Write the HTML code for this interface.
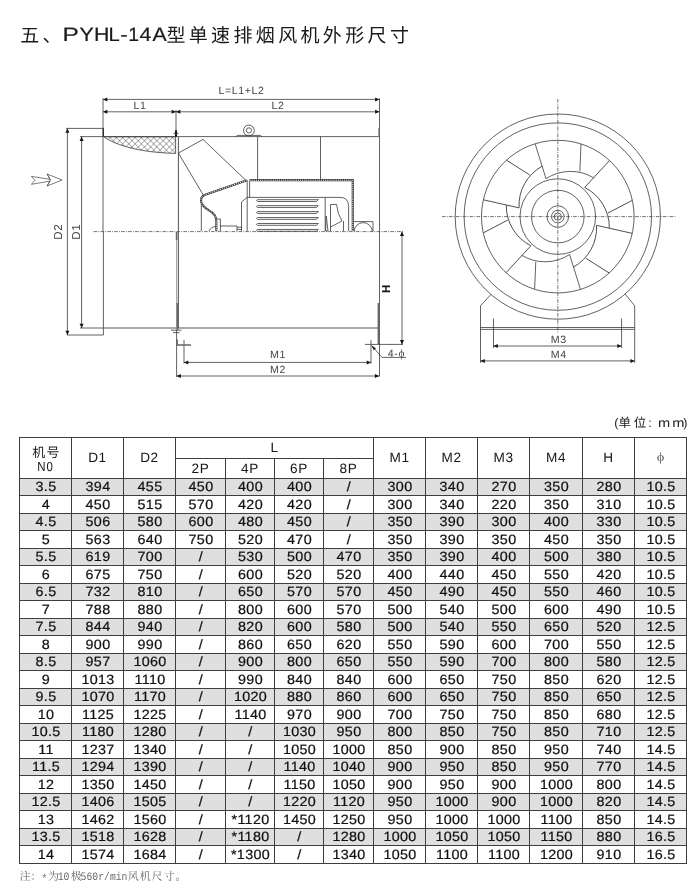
<!DOCTYPE html>
<html lang="zh"><head><meta charset="utf-8"><title>PYHL-14A</title>
<style>
html,body{margin:0;padding:0;background:#fff}
body{will-change:transform}
body,svg text{text-rendering:geometricPrecision}
.mono{font-family:"Liberation Mono",monospace!important}
body{width:700px;height:893px;position:relative;overflow:hidden;font-family:"Liberation Sans",sans-serif;color:#222}
.abs{position:absolute;display:block;overflow:visible}
svg text{font-family:"Liberation Sans",sans-serif}
svg text.cjk{font-family:"Liberation Sans","Noto Sans CJK SC",sans-serif}
svg text.cjks{font-family:"Liberation Serif","Noto Serif CJK SC",serif}
table.t{position:absolute;left:19px;top:437px;border-collapse:collapse;table-layout:fixed;width:667px;font-size:13px;color:#1c1c1c;letter-spacing:.7px}
table.t th,table.t td{border:1px solid #3e3e3e;padding:0;text-align:center;font-weight:normal;overflow:hidden;white-space:nowrap;line-height:1}
table.t tr.h1{height:21px}
table.t tr.h2{height:20px}
table.t th{font-size:13.6px;color:#151515;padding-top:0;letter-spacing:.6px}
table.t tr.g{height:17px;background:#dfdfdf}
table.t tr.w{height:18px}
table.t td{font-size:13.4px;padding-bottom:0;letter-spacing:.3px;transform:scaleX(1.07);color:#111;-webkit-text-stroke:.22px #111}
table.t th.no{line-height:12px;padding-top:2px}
table.t .n0{display:block;font-size:13px;letter-spacing:1px;margin-top:2px;transform:scaleX(.88)}
table.t th.phi{font-family:"Liberation Serif",serif;font-size:12.5px;color:#5a5a5a;-webkit-text-stroke:0;transform:scaleX(1.15);padding-top:0;padding-bottom:2px}
</style></head><body>
<svg class="abs" style="left:0;top:0" width="700" height="60" viewBox="0 0 700 60" role="img" aria-label="五、PYHL-14A型单速排烟风机外形尺寸"><title>五、PYHL-14A型单速排烟风机外形尺寸</title>
<text class="cjk" x="20.2" y="42" font-size="19" letter-spacing="3.3" fill="#1a1a1a">五、</text>
<text x="62.6" y="41" font-size="19.4" fill="#1a1a1a" stroke="#1a1a1a" stroke-width="0.2" transform="translate(62.6 0) scale(1.26 1) translate(-62.6 0)">P</text>
<text x="79.4" y="41" font-size="19.4" fill="#1a1a1a" stroke="#1a1a1a" stroke-width="0.2" transform="translate(79.4 0) scale(1.1 1) translate(-79.4 0)">Y</text>
<text x="94.0" y="41" font-size="19.4" fill="#1a1a1a" stroke="#1a1a1a" stroke-width="0.2" transform="translate(94.0 0) scale(1.1 1) translate(-94.0 0)">H</text>
<text x="108.6" y="41" font-size="19.4" fill="#1a1a1a" stroke="#1a1a1a" stroke-width="0.2" transform="translate(108.6 0) scale(1.04 1) translate(-108.6 0)">L</text>
<text x="120.4" y="41" font-size="19.4" fill="#1a1a1a" stroke="#1a1a1a" stroke-width="0.2" transform="translate(120.4 0) scale(1.1 1) translate(-120.4 0)">-</text>
<text x="128.2" y="41" font-size="19.4" fill="#1a1a1a" stroke="#1a1a1a" stroke-width="0.2" transform="translate(128.2 0) scale(1.0 1) translate(-128.2 0)">1</text>
<text x="139.6" y="41" font-size="19.4" fill="#1a1a1a" stroke="#1a1a1a" stroke-width="0.2" transform="translate(139.6 0) scale(1.1 1) translate(-139.6 0)">4</text>
<text x="152.4" y="41" font-size="19.4" fill="#1a1a1a" stroke="#1a1a1a" stroke-width="0.2" transform="translate(152.4 0) scale(1.1 1) translate(-152.4 0)">A</text>
<text class="cjk" x="166.4" y="42" font-size="19" letter-spacing="3.35" fill="#1a1a1a">型单速排烟风机外形尺寸</text>
</svg>
<svg class="abs" style="left:0;top:80px" width="430" height="310" viewBox="0 80 430 310">
<defs><pattern id="xh" width="4.4" height="4.4" patternUnits="userSpaceOnUse" patternTransform="translate(104 137) rotate(45)"><path d="M0 0H4.4M0 0V4.4" stroke="#222" stroke-width="0.65" fill="none"/></pattern></defs>
<g fill="none" stroke="#3a3a3a" stroke-width="0.8">
<line x1="103" y1="99.4" x2="379.4" y2="99.4"/><polygon points="103.0,99.4 107.3,97.4 107.3,101.4" fill="#151515" stroke="none"/><polygon points="379.4,99.4 375.1,101.4 375.1,97.4" fill="#151515" stroke="none"/>
<line x1="103" y1="111.8" x2="176" y2="111.8"/><polygon points="103.0,111.8 107.3,109.8 107.3,113.8" fill="#151515" stroke="none"/><polygon points="176.0,111.8 171.7,113.8 171.7,109.8" fill="#151515" stroke="none"/>
<line x1="176" y1="111.8" x2="379.4" y2="111.8"/><polygon points="176.0,111.8 180.3,109.8 180.3,113.8" fill="#151515" stroke="none"/><polygon points="379.4,111.8 375.1,113.8 375.1,109.8" fill="#151515" stroke="none"/>
<path d="M103 98.2V231.6M103.4 231.6V335M176 110V136.6M379.5 98.2V376.5"/>
<path d="M66 128.4H103.4M67 335H103.4M80 136.6H103.4M80 328H103.4"/><path d="M103.3 128.2V136.8" stroke="#222" stroke-width="1.2"/>
<line x1="67.4" y1="128.4" x2="67.4" y2="335"/><polygon points="67.4,128.4 69.4,132.7 65.4,132.7" fill="#151515" stroke="none"/><polygon points="67.4,335.0 65.4,330.7 69.4,330.7" fill="#151515" stroke="none"/>
<line x1="81.6" y1="136.6" x2="81.6" y2="328"/><polygon points="81.6,136.6 83.6,140.9 79.6,140.9" fill="#151515" stroke="none"/><polygon points="81.6,328.0 79.6,323.7 83.6,323.7" fill="#151515" stroke="none"/>
<path d="M104 136.8H175.6V153.4C135 152.5 112 143 104 136.8Z" fill="url(#xh)"/>
<path d="M103.4 136.6H379.4"/>
<path d="M103.4 328H379.4" stroke="#555" stroke-width="1.1"/>
<path d="M178.4 136.6V328" stroke="#555" stroke-width="1"/>
<path d="M176.7 232V328" stroke="#9a9a9a" stroke-width="1.1"/>
<path d="M257.6 136.6V179.6M320.5 136.6V179.6"/>
<path d="M176 130.4V136.6" stroke="#111" stroke-width="2.1"/><path d="M173.5 133.4H178.5"/>
<path d="M176.6 232V240M177.4 303V330M378.4 303V344" stroke="#666" stroke-width="1.6"/><path d="M378.7 128V136.6" stroke="#888" stroke-width="1"/>
<circle cx="248.9" cy="130.5" r="5.4"/><circle cx="248.9" cy="130.4" r="2.6"/><path d="M236 136.4L238 135.4H260L261.8 136.4"/>
<path d="M178.4 153L203 139.4L245.5 180M178.4 153L203.5 195.5"/>
<path d="M247 180.2L204.5 195Q200.2 197.2 201.2 202Q202 206 209 210.4Q216.3 214.5 216.3 221V231" stroke="#333" stroke-width="2.1"/><path d="M247 180.2L204.5 195Q200.2 197.2 201.2 202Q202 206 209 210.4Q216.3 214.5 216.3 221V231" stroke="#fff" stroke-width="0.9" stroke-dasharray="1.2 0.9"/>
<path d="M201.3 204.5V231"/>
<path d="M249.5 180.2H352.8V231" stroke="#333" stroke-width="2.2"/><path d="M249.5 180.2H352.8V231" stroke="#fff" stroke-width="1" stroke-dasharray="1.2 0.9"/>
<path d="M247.2 180V231"/>
<path d="M241.5 231V202L247.2 197.4M247 197.4H340Q348.6 197.4 348.6 206.5V231M249.6 181V197.4M325.2 197.4V231"/>
<path d="M318 199.70H257.5Q255.4 200.60 257.5 201.50H316.5L318.6 199.20"/>
<path d="M318 205.65H257.5Q255.4 206.55 257.5 207.45H316.5L318.6 205.15"/>
<path d="M318 211.60H257.5Q255.4 212.50 257.5 213.40H316.5L318.6 211.10"/>
<path d="M318 217.55H257.5Q255.4 218.45 257.5 219.35H316.5L318.6 217.05"/>
<path d="M318 223.50H257.5Q255.4 224.40 257.5 225.30H316.5L318.6 223.00"/>
<path d="M318 229.45H257.5Q255.4 230.35 257.5 231.25H316.5L318.6 228.95"/>
<path d="M330.5 231V204.5H336.5Q337.5 214 342 221L330.5 227M343.5 221V231M325.6 231L326.2 216L328 231Z"/>
<path d="M216.6 219H220.4V231M220.4 226H237V231M237 227.2H242M237 229.4H242M209 231Q211 226.5 216 226.5"/>
<path d="M354 221.6H373V231.6M354.2 231.6A9 9 0 0 1 372.2 231.6"/>
<path d="M93.6 231.6H404" stroke-dasharray="3.6 1.2 0.9 1.2" stroke="#444" stroke-width="0.75"/>
<line x1="402" y1="231.6" x2="402" y2="344.4"/><polygon points="402.0,231.6 404.0,235.9 400.0,235.9" fill="#151515" stroke="none"/><polygon points="402.0,344.4 400.0,340.1 404.0,340.1" fill="#151515" stroke="none"/>
<path d="M171 330.2H181.5M173 332.6H179.5M176.6 330V377M184 340V363.5M365 344.4H403M371 340V363.5"/>
<path d="M177.2 339.5V345H191" stroke="#666" stroke-width="1.5"/>
<line x1="184" y1="362.4" x2="371" y2="362.4"/><polygon points="184.0,362.4 188.3,360.4 188.3,364.4" fill="#151515" stroke="none"/><polygon points="371.0,362.4 366.7,364.4 366.7,360.4" fill="#151515" stroke="none"/>
<line x1="176.6" y1="376" x2="379.2" y2="376"/><polygon points="176.6,376.0 180.9,374.0 180.9,378.0" fill="#151515" stroke="none"/><polygon points="379.2,376.0 374.9,378.0 374.9,374.0" fill="#151515" stroke="none"/>
<path d="M371.5 345.5L382 357.4H406"/><polygon points="371.5,345.5 375.9,348.3 373.8,350.2" fill="#151515" stroke="none"/>
<path d="M31.4 176.4L50 179.3L47.1 174L62.1 180L47.1 186L50 181.1L31.4 184.3L35 180.3ZM47.1 174L50.6 180L47.1 186" stroke="#444" stroke-width="0.7"/>
</g>
<g font-size="10.6" fill="#444" text-anchor="middle" letter-spacing="0.6">
<text x="241.5" y="93.7">L=L1+L2</text>
<text x="140" y="108.7">L1</text>
<text x="278" y="108.7">L2</text>
<text x="278" y="357.6">M1</text>
<text x="278" y="373.2">M2</text>
<text x="396.5" y="356.6">4-<tspan font-family="Liberation Serif" font-size="11.5">ϕ</tspan></text>
<text transform="translate(61.5 231.8) rotate(-90)" font-size="11.6">D2</text>
<text transform="translate(79.8 231.8) rotate(-90)" font-size="11.6">D1</text>
<text transform="translate(389.6 288.8) rotate(-90)" font-weight="bold" fill="#111" font-size="11.5" letter-spacing="0">H</text>
</g>
</svg>
<svg class="abs" style="left:440px;top:90px" width="250" height="300" viewBox="440 90 250 300">
<g fill="none" stroke="#3a3a3a" stroke-width="0.8">
<circle cx="557.8" cy="216.6" r="102.6"/>
<circle cx="557.8" cy="216.6" r="93.7"/>
<circle cx="557.8" cy="216.6" r="76.3"/>
<circle cx="557.8" cy="216.6" r="37.8"/>
<circle cx="557.8" cy="216.6" r="26.3"/>
<circle cx="557.8" cy="216.6" r="10.8"/>
<circle cx="557.8" cy="216.6" r="6.3"/>
<circle cx="557.8" cy="216.6" r="3.6"/>
<g transform="translate(557.8 216.6)">
<path transform="rotate(0)" d="M-22.69 -72.85L-11.81 -37.90A44.9 44.9 0 0 1 35.81 -38.80M23.17 -72.59L22.03 -45.16"/>
<path transform="rotate(60)" d="M-22.69 -72.85L-11.81 -37.90A44.9 44.9 0 0 1 35.81 -38.80M23.17 -72.59L22.03 -45.16"/>
<path transform="rotate(120)" d="M-22.69 -72.85L-11.81 -37.90A44.9 44.9 0 0 1 35.81 -38.80M23.17 -72.59L22.03 -45.16"/>
<path transform="rotate(180)" d="M-22.69 -72.85L-11.81 -37.90A44.9 44.9 0 0 1 35.81 -38.80M23.17 -72.59L22.03 -45.16"/>
<path transform="rotate(240)" d="M-22.69 -72.85L-11.81 -37.90A44.9 44.9 0 0 1 35.81 -38.80M23.17 -72.59L22.03 -45.16"/>
<path transform="rotate(300)" d="M-22.69 -72.85L-11.81 -37.90A44.9 44.9 0 0 1 35.81 -38.80M23.17 -72.59L22.03 -45.16"/>
<path d="M0 0V2.4M0 0L-2.1 -1.3M0 0L2.1 -1.3" stroke-width="0.6"/>
</g>
<path d="M442 216.6H676M557.8 99V333" stroke-dasharray="3.6 1.2 0.9 1.2" stroke="#444" stroke-width="0.75"/>
<path d="M491.3 294.1L480.5 305.8V362.8M625.2 294.1L634.7 305.8V362.8M480.5 327.5H634.7M480.5 329.4H634.7M493.5 318.5V348M621.6 318.5V348"/>
<line x1="493.5" y1="346" x2="621.6" y2="346"/><polygon points="493.5,346.0 497.8,344.0 497.8,348.0" fill="#151515" stroke="none"/><polygon points="621.6,346.0 617.3,348.0 617.3,344.0" fill="#151515" stroke="none"/>
<line x1="480.5" y1="360.9" x2="634.7" y2="360.9"/><polygon points="480.5,360.9 484.8,358.9 484.8,362.9" fill="#151515" stroke="none"/><polygon points="634.7,360.9 630.4,362.9 630.4,358.9" fill="#151515" stroke="none"/>
</g>
<g font-size="10.6" fill="#444" text-anchor="middle" letter-spacing="0.6">
<text x="558.8" y="343.2">M3</text>
<text x="558.8" y="358.4">M4</text>
</g></svg>
<svg class="abs" style="left:600px;top:410px" width="100" height="24" viewBox="600 410 100 24" role="img" aria-label="(单位: mm)"><title>(单位: mm)</title>
<g font-size="12.5" fill="#222">
<text x="614.2" y="427">(</text>
<text class="cjk" x="618.5" y="427.3" font-size="12.5" letter-spacing="2.7" fill="#222">单位</text>
<text x="648.2" y="427">:</text>
<text transform="translate(658 427) scale(1.17 1)">m</text><text transform="translate(672.3 427) scale(1.17 1)">m</text>
<text x="683.3" y="427">)</text>
</g></svg>
<table class="t">
<colgroup><col style="width:52px"><col style="width:52px"><col style="width:52px"><col style="width:50px"><col style="width:49px"><col style="width:49px"><col style="width:50px"><col style="width:52px"><col style="width:52px"><col style="width:52px"><col style="width:53px"><col style="width:52px"><col style="width:52px"></colgroup>
<thead><tr class="h1"><th rowspan="2" class="no"><svg width="28" height="14" viewBox="0 0 28 14" role="img" aria-label="机号" style="display:block;margin:0 auto"><title>机号</title><text class="cjk" x="0.2" y="11.6" font-size="13" letter-spacing="1.3" fill="#222">机号</text></svg><span class="n0">N0</span></th><th rowspan="2">D1</th><th rowspan="2">D2</th><th colspan="4">L</th><th rowspan="2">M1</th><th rowspan="2">M2</th><th rowspan="2">M3</th><th rowspan="2">M4</th><th rowspan="2">H</th><th rowspan="2" class="phi">ϕ</th></tr>
<tr class="h2"><th>2P</th><th>4P</th><th>6P</th><th>8P</th></tr></thead><tbody>
<tr class="g"><td>3.5</td><td>394</td><td>455</td><td>450</td><td>400</td><td>400</td><td>/</td><td>300</td><td>340</td><td>270</td><td>350</td><td>280</td><td>10.5</td></tr>
<tr class="w"><td>4</td><td>450</td><td>515</td><td>570</td><td>420</td><td>420</td><td>/</td><td>300</td><td>340</td><td>220</td><td>350</td><td>310</td><td>10.5</td></tr>
<tr class="g"><td>4.5</td><td>506</td><td>580</td><td>600</td><td>480</td><td>450</td><td>/</td><td>350</td><td>390</td><td>300</td><td>400</td><td>330</td><td>10.5</td></tr>
<tr class="w"><td>5</td><td>563</td><td>640</td><td>750</td><td>520</td><td>470</td><td>/</td><td>350</td><td>390</td><td>350</td><td>450</td><td>350</td><td>10.5</td></tr>
<tr class="g"><td>5.5</td><td>619</td><td>700</td><td>/</td><td>530</td><td>500</td><td>470</td><td>350</td><td>390</td><td>400</td><td>500</td><td>380</td><td>10.5</td></tr>
<tr class="w"><td>6</td><td>675</td><td>750</td><td>/</td><td>600</td><td>520</td><td>520</td><td>400</td><td>440</td><td>450</td><td>550</td><td>420</td><td>10.5</td></tr>
<tr class="g"><td>6.5</td><td>732</td><td>810</td><td>/</td><td>650</td><td>570</td><td>570</td><td>450</td><td>490</td><td>450</td><td>550</td><td>460</td><td>10.5</td></tr>
<tr class="w"><td>7</td><td>788</td><td>880</td><td>/</td><td>800</td><td>600</td><td>570</td><td>500</td><td>540</td><td>500</td><td>600</td><td>490</td><td>10.5</td></tr>
<tr class="g"><td>7.5</td><td>844</td><td>940</td><td>/</td><td>820</td><td>600</td><td>580</td><td>500</td><td>540</td><td>550</td><td>650</td><td>520</td><td>12.5</td></tr>
<tr class="w"><td>8</td><td>900</td><td>990</td><td>/</td><td>860</td><td>650</td><td>620</td><td>550</td><td>590</td><td>600</td><td>700</td><td>550</td><td>12.5</td></tr>
<tr class="g"><td>8.5</td><td>957</td><td>1060</td><td>/</td><td>900</td><td>800</td><td>650</td><td>550</td><td>590</td><td>700</td><td>800</td><td>580</td><td>12.5</td></tr>
<tr class="w"><td>9</td><td>1013</td><td>1110</td><td>/</td><td>990</td><td>840</td><td>840</td><td>600</td><td>650</td><td>750</td><td>850</td><td>620</td><td>12.5</td></tr>
<tr class="g"><td>9.5</td><td>1070</td><td>1170</td><td>/</td><td>1020</td><td>880</td><td>860</td><td>600</td><td>650</td><td>750</td><td>850</td><td>650</td><td>12.5</td></tr>
<tr class="w"><td>10</td><td>1125</td><td>1225</td><td>/</td><td>1140</td><td>970</td><td>900</td><td>700</td><td>750</td><td>750</td><td>850</td><td>680</td><td>12.5</td></tr>
<tr class="g"><td>10.5</td><td>1180</td><td>1280</td><td>/</td><td>/</td><td>1030</td><td>950</td><td>800</td><td>850</td><td>750</td><td>850</td><td>710</td><td>12.5</td></tr>
<tr class="w"><td>11</td><td>1237</td><td>1340</td><td>/</td><td>/</td><td>1050</td><td>1000</td><td>850</td><td>900</td><td>850</td><td>950</td><td>740</td><td>14.5</td></tr>
<tr class="g"><td>11.5</td><td>1294</td><td>1390</td><td>/</td><td>/</td><td>1140</td><td>1040</td><td>900</td><td>950</td><td>850</td><td>950</td><td>770</td><td>14.5</td></tr>
<tr class="w"><td>12</td><td>1350</td><td>1450</td><td>/</td><td>/</td><td>1150</td><td>1050</td><td>900</td><td>950</td><td>900</td><td>1000</td><td>800</td><td>14.5</td></tr>
<tr class="g"><td>12.5</td><td>1406</td><td>1505</td><td>/</td><td>/</td><td>1220</td><td>1120</td><td>950</td><td>1000</td><td>900</td><td>1000</td><td>820</td><td>14.5</td></tr>
<tr class="w"><td>13</td><td>1462</td><td>1560</td><td>/</td><td>*1120</td><td>1450</td><td>1250</td><td>950</td><td>1000</td><td>1000</td><td>1100</td><td>850</td><td>14.5</td></tr>
<tr class="g"><td>13.5</td><td>1518</td><td>1628</td><td>/</td><td>*1180</td><td>/</td><td>1280</td><td>1000</td><td>1050</td><td>1050</td><td>1150</td><td>880</td><td>16.5</td></tr>
<tr class="w"><td>14</td><td>1574</td><td>1684</td><td>/</td><td>*1300</td><td>/</td><td>1340</td><td>1050</td><td>1100</td><td>1100</td><td>1200</td><td>910</td><td>16.5</td></tr>
</tbody></table>
<svg class="abs" style="left:0;top:866px" width="260" height="20" viewBox="0 866 260 20" role="img" aria-label="注：*为10极560r/min风机尺寸。"><title>注：*为10极560r/min风机尺寸。</title>
<text class="cjks" x="19.6" y="880.4" font-size="11" fill="#6a6a6a">注：</text>
<text class="mono" transform="translate(41.6 882.3) scale(0.857 1)" font-size="11.4" fill="#6a6a6a">*</text>
<text class="cjks" x="48.1" y="880.4" font-size="11" fill="#6a6a6a">为</text>
<text class="mono" transform="translate(57.7 879.9) scale(0.857 1)" font-size="11.4" fill="#6a6a6a">10</text>
<text class="cjks" x="70.7" y="880.4" font-size="11" fill="#6a6a6a">极</text>
<text class="mono" transform="translate(80.6 879.9) scale(0.857 1)" font-size="11.4" fill="#6a6a6a">560r/min</text>
<text class="cjks" x="127.8" y="880.4" font-size="11" letter-spacing="0.9" fill="#6a6a6a">风机尺寸。</text>
</svg>
</body></html>
